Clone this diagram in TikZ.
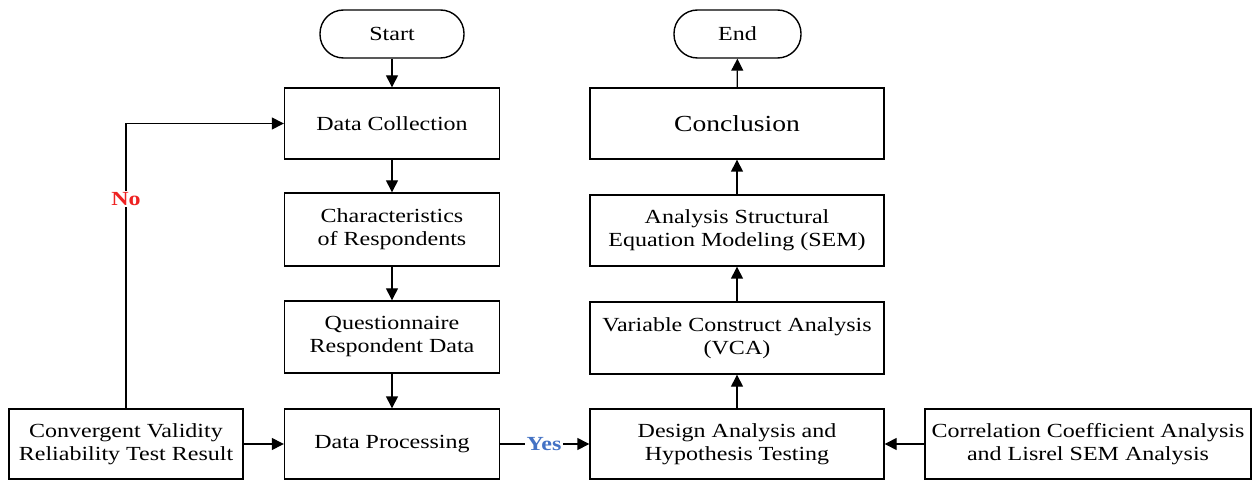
\documentclass[tikz,border=0pt]{standalone}
\usepackage{fontspec}
\setmainfont{Liberation Serif}[FakeStretch=1.2]
\usepackage{tikz}
\usetikzlibrary{arrows.meta}
\definecolor{nored}{HTML}{EE2222}
\definecolor{yesblue}{HTML}{4472C4}
\tikzstyle{arrow} = [-{Triangle[length=12pt,width=12pt]}]
\tikzstyle{box} = [draw,rectangle,align=center,inner sep=2pt,font=\fontsize{20}{23}\selectfont]
\tikzstyle{term} = [draw,rectangle,rounded corners=23.5pt,minimum height=48pt,font=\fontsize{20}{23}\selectfont]
\tikzstyle{lbl} = [inner sep=1pt,font=\bfseries\fontsize{20}{23}\selectfont]

\begin{document}
\begin{tikzpicture}[x=1pt,y=-1pt,line width=1.4pt]
        \useasboundingbox (0,0) rectangle (1254,481);
        % left column
        \node[term, minimum width=144pt] at (392,34) (start) {Start};
        \node[box, minimum width=215pt, minimum height=71pt] at (392,123.5) (dc) {Data Collection};
        \node[box, minimum width=215pt, minimum height=73pt] at (392,229.5) (char) {Characteristics\\of Respondents};
        \node[box, minimum width=215pt, minimum height=72pt] at (392,337) (quest) {Questionnaire\\Respondent Data};
        \node[box, minimum width=215pt, minimum height=70pt] at (392,444) (dp) {Data Processing};
        \node[box, minimum width=234pt, minimum height=70pt] at (126,444) (conv) {Convergent Validity\\Reliability Test Result};
        % right column
        \node[box, minimum width=294pt, minimum height=70pt] at (737,444) (design) {Design Analysis and\\Hypothesis Testing};
        \node[box, minimum width=326pt, minimum height=70pt] at (1088,444) (corr) {Correlation Coefficient Analysis\\and Lisrel SEM Analysis};
        \node[box, minimum width=294pt, minimum height=72pt] at (737,338) (vca) {Variable Construct Analysis\\(VCA)};
        \node[box, minimum width=294pt, minimum height=71pt] at (737,230.5) (sem) {Analysis Structural\\Equation Modeling (SEM)};
        \node[box, minimum width=294pt, minimum height=71pt, font=\fontsize{23}{26}\selectfont] at (737,123.5) (concl) {Conclusion};
        \node[term, minimum width=127pt] at (737.5,34) (end) {End};
        % labels
        \node[lbl, text=nored] at (126,199) (no) {No};
        \node[lbl, text=yesblue] at (544,444) (yes) {Yes};

        \draw[arrow] (start) -- (dc);
        \draw[arrow] (dc) -- (char);
        \draw[arrow] (char) -- (quest);
        \draw[arrow] (quest) -- (dp);
        \draw[arrow] (conv) -- (dp);
        \draw (conv.north) -- (no.south);
        \draw[arrow] (no.north) |- (dc.west);
        \draw (dp.east) -- (yes.west);
        \draw[arrow] (yes.east) -- (design.west);
        \draw[arrow] (corr) -- (design);
        \draw[arrow] (design) -- (vca);
        \draw[arrow] (vca) -- (sem);
        \draw[arrow] (sem) -- (concl);
        \draw[arrow] (concl) -- (end);
\end{tikzpicture}
\end{document}
